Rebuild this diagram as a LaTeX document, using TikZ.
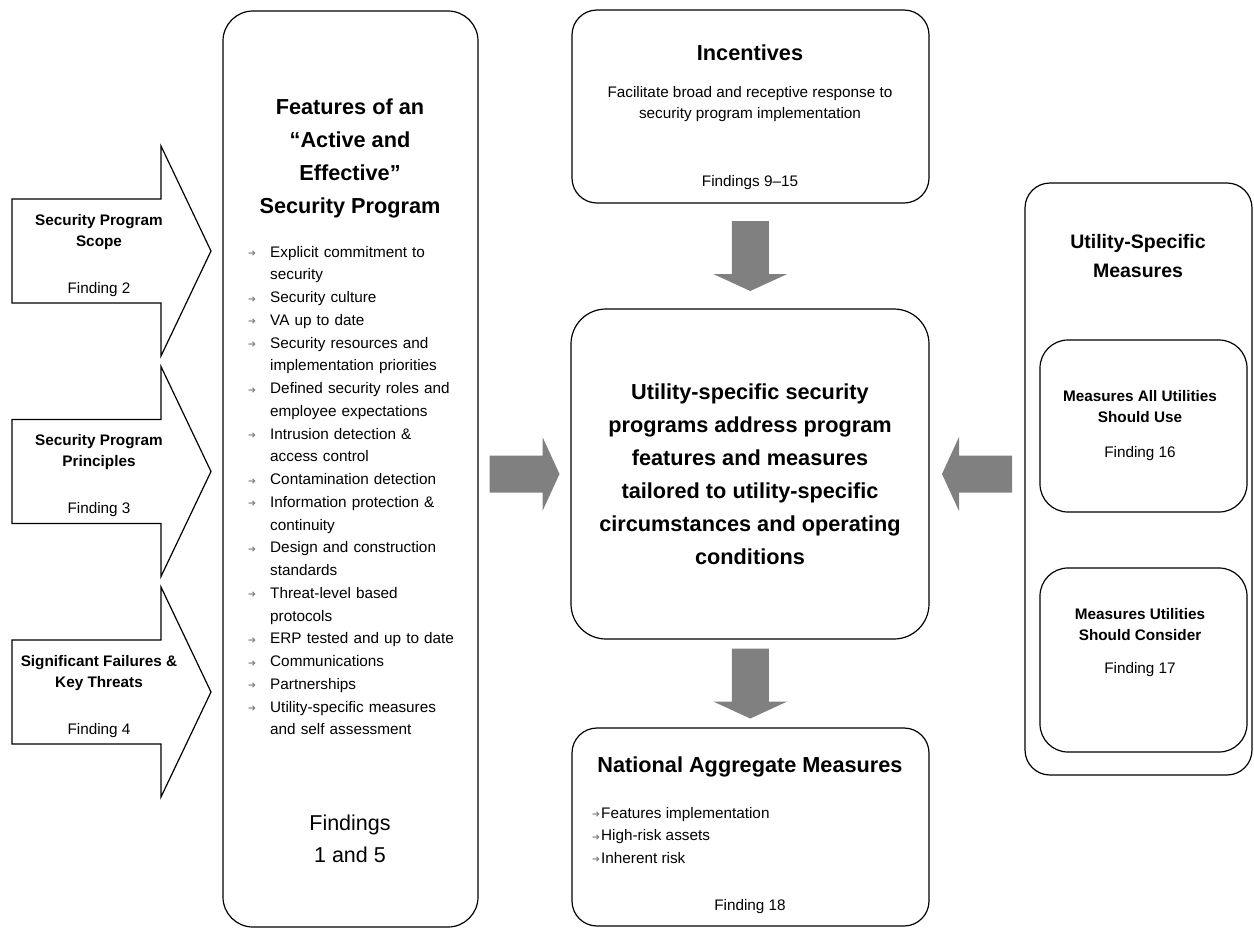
\documentclass[tikz,border=0pt]{standalone}
\usepackage{fontspec}
\setmainfont{Liberation Sans}
\newfontfamily\arrowfont{DejaVu Sans}
\usetikzlibrary{calc}

\definecolor{arrowgray}{HTML}{808080}
\definecolor{bulletgray}{HTML}{7A7A7A}

\newcommand{\ttlfont}{\fontsize{21.7}{33}\selectfont\bfseries}
\newcommand{\midfont}{\fontsize{19.5}{29}\selectfont\bfseries}
\newcommand{\subfont}{\fontsize{15.3}{21}\selectfont\bfseries}
\newcommand{\txtfont}{\fontsize{15.3}{20.5}\selectfont}
\newcommand{\listfont}{\fontsize{15.3}{22.75}\selectfont}
\newcommand{\findfont}{\fontsize{21.5}{32}\selectfont}
\newcommand{\blt}{\raisebox{0.5pt}{\textcolor{bulletgray}{\arrowfont\fontsize{9.5}{9.5}\selectfont ➔}}}
\newcommand{\featitem}[1]{\hangindent=22pt\hangafter=1\noindent\makebox[22pt][l]{\blt}#1\par}

\tikzset{
  roundbox/.style={draw, line width=1.2pt, rounded corners=28pt},
  flowarrow/.pic={\fill[arrowgray] (-35,-18.5) -- (18,-18.5) -- (18,-37) -- (35,0)
    -- (18,37) -- (18,18.5) -- (-35,18.5) -- cycle;}
}

\begin{document}
\begin{tikzpicture}[x=1pt, y=-1pt]
  \useasboundingbox (0,0) rectangle (1254,930);

  \foreach \c/\ttl/\n in {251/{Security Program\\Scope}/2,
                          471.5/{Security Program\\Principles}/3,
                          692/{Significant Failures \&\\Key Threats}/4}
  {
    \draw[line width=1.2pt] (12,\c-52) -- (161,\c-52) -- (161,\c-105) -- (211,\c)
      -- (161,\c+105) -- (161,\c+52) -- (12,\c+52) -- cycle; %input arrows
    \node[anchor=base, align=center, font=\subfont, inner sep=0] (srcT\n) at (99,\c-5) {\ttl};
    \node[anchor=base, font=\txtfont, inner sep=0] (srcF\n) at (99,\c+42) {Finding \n};
  }

  % features column
  \node[roundbox, minimum width=255pt, minimum height=916pt, rounded corners=30pt] (feat) at (350.5,469) {};
  \node[anchor=base, align=center, font=\ttlfont, inner sep=0] (featT) at (350,213)
    {Features of an\\``Active and\\Effective''\\Security Program};
  \node[anchor=base west, text width=215pt, align=left, font=\listfont, inner sep=0] (featL) at (248,257)
    {\featitem{Explicit commitment to\newline security}
     \featitem{Security culture}
     \featitem{VA up to date}
     \featitem{Security resources and\newline implementation priorities}
     \featitem{Defined security roles and\newline employee expectations}
     \featitem{Intrusion detection \&\newline access control}
     \featitem{Contamination detection}
     \featitem{Information protection \&\newline continuity}
     \featitem{Design and construction\newline standards}
     \featitem{Threat-level based\newline protocols}
     \featitem{ERP tested and up to date}
     \featitem{Communications}
     \featitem{Partnerships}
     \featitem{Utility-specific measures\newline and self assessment}};
  \node[anchor=base, align=center, font=\findfont, inner sep=0] (featF) at (350,862) {Findings\\1 and 5};

  % incentives
  \node[roundbox, minimum width=357pt, minimum height=193pt, rounded corners=25pt] (incent) at (750.5,106.5) {};
  \node[anchor=base, font=\ttlfont, inner sep=0] (incT) at (750,60) {Incentives};
  \node[anchor=base, align=center, font=\txtfont, inner sep=0] (incD) at (750,118)
    {Facilitate broad and receptive response to\\security program implementation};
  \node[anchor=base, font=\txtfont, inner sep=0] (incF) at (750,186) {Findings 9--15};

  % core box
  \node[roundbox, minimum width=358pt, minimum height=330pt, rounded corners=35pt,
        align=center, font=\ttlfont] (core) at (750,474)
    {Utility-specific security\\programs address program\\features and measures\\tailored to utility-specific\\circumstances and operating\\conditions};

  % national measures
  \node[roundbox, minimum width=357pt, minimum height=198pt, rounded corners=25pt] (natl) at (750.5,827) {};
  \node[anchor=base, font=\ttlfont, inner sep=0] (natlT) at (750,772) {National Aggregate Measures};
  \node[anchor=base west, align=left, font=\fontsize{15.3}{22.5}\selectfont, inner sep=0] (natlL) at (592,863)
    {\blt\hspace{1pt}Features implementation\\\blt\hspace{1pt}High-risk assets\\\blt\hspace{1pt}Inherent risk};
  \node[anchor=base, font=\txtfont, inner sep=0] (natlF) at (750,910) {Finding 18};

  % utility-specific measures
  \node[roundbox, minimum width=227pt, minimum height=592pt, rounded corners=25pt] (util) at (1138.5,479) {};
  \node[anchor=base, align=center, font=\midfont, inner sep=0] (utilT) at (1138,277) {Utility-Specific\\Measures};
  \node[roundbox, minimum width=207pt, minimum height=172pt] (allbox) at (1143.5,426) {};
  \node[anchor=base, align=center, font=\subfont, inner sep=0] (allT) at (1140,422) {Measures All Utilities\\Should Use};
  \node[anchor=base, font=\txtfont, inner sep=0] (allF) at (1140,457) {Finding 16};
  \node[roundbox, minimum width=207pt, minimum height=184pt] (consbox) at (1143.5,660) {};
  \node[anchor=base, align=center, font=\subfont, inner sep=0] (consT) at (1140,640) {Measures Utilities\\Should Consider};
  \node[anchor=base, font=\txtfont, inner sep=0] (consF) at (1140,673) {Finding 17};

  % block arrows
  \pic[rotate=-90] at ($(incent.south)!0.5!(core.north)$) {flowarrow};
  \pic[rotate=-90] at ($(core.south)!0.5!(natl.north)$) {flowarrow};
  \pic at ($(feat.east |- core.west)!0.5!(core.west)$) {flowarrow};
  \pic[rotate=180] at ($(util.west |- core.east)!0.5!(core.east)$) {flowarrow};
\end{tikzpicture}
\end{document}
